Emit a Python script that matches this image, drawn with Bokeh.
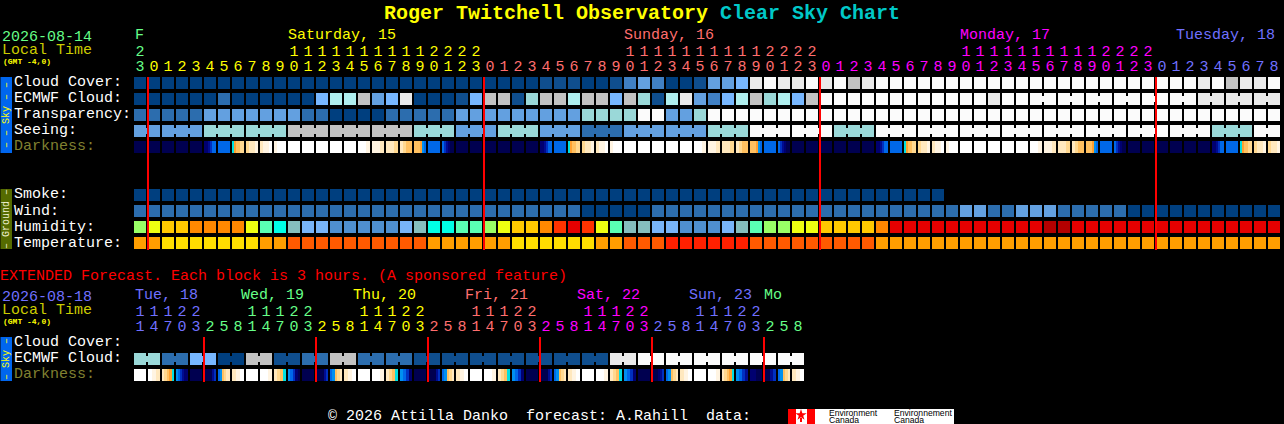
from bokeh.plotting import figure
from bokeh.models import ColumnDataSource, Range1d
from bokeh.core.properties import value
from bokeh.embed import file_html
from bokeh.resources import INLINE
import math

# ---------- data ----------
hours = [23, 0,1,2,3,4,5,6,7,8,9,10,11,12,13,14,15,16,17,18,19,20,21,22,23,
         0,1,2,3,4,5,6,7,8,9,10,11,12,13,14,15,16,17,18,19,20,21,22,23,
         0,1,2,3,4,5,6,7,8,9,10,11,12,13,14,15,16,17,18,19,20,21,22,23,
         0,1,2,3,4,5,6,7,8]
ext_hours = [11,14,17,20,23, 2,5,8,11,14,17,20,23, 2,5,8,11,14,17,20,23, 2,5,8,11,14,17,20,23,
             2,5,8,11,14,17,20,23, 2,5,8,11,14,17,20,23, 2,5,8]

cloud = [0,0,0,0,0,0,0,0,0,0,0,0,0,0,0,0,0,0,0,0,0,0,0,0,0,0,0,0,0,1,1,1,0,0,1,3,4,3,0,0,1,4,4,5,9,10,9,9,10,9,10,8,9,
         10,10,10,10,10,10,10,10,10,10,10,10,10,10,10,10,10,10,10,10,10,10,10,9,10,8,9,9,10]
ecmwf = [0,0,0,0,0,0,2,0,0,0,0,0,0,5,7,7,8,4,5,9,0,0,0,1,5,8,8,1,6,8,8,7,8,8,5,8,6,1,7,9,4,3,5,7,8,6,7,5,8,10,10,10,
         10,10,10,10,10,10,10,10,10,9,10,10,10,10,10,10,10,10,9,9,9,9,9,9,5,5,5,5,5,5]
ecmwf_spans = [1,1,1,1,1,1,1,1,1,1,1,1,1,1,1,1,1,1,1,1,1,1,1,1,1,1,1,1,1,1,1,1,1,1,1,1,1,1,1,1,1,1,1,1,1,1,1,1,1,1,1,1,1,1,1,1,1,1,1,1,1,1,1,1,
               2,2,2,2,2,2,2,2,2]
transparency = [2,2,2,2,2,4,4,4,4,4,4,4,2,2,0,0,0,0,2,2,2,2,2,4,4,4,4,4,4,4,4,4,6,6,6,6,10,10,4,4,6,
                10,10,10,10,10,10,10,10,10,10,10,10,10,10,10,10,10,10,10,10,10,10,10,10,10,10,10,10,10,10,10,10,10,10,10,10,10,10,10,10,10]
seeing_spans = [2,3,3,3,3,3,3,3,3,3,3,3,3,3,3,3,3,3,3,3,3,3,3,3,3,3,3,2]
seeing_blocks = [4,4,6,6,8,8,8,6,4,6,4,2,4,4,6,10,10,6,10,10,10,10,10,10,10,10,6,10]
darkness = [(0,),(0,),(0,),(0,),(0,),(1,1,2,3,4,4),(4,),(6,7,8,8,9,9),(9,10,10,11),(10,11,11,12),(11,12,12,12),
            (12,),(12,),(12,),(12,),(12,),(12,12,11),(11,11,10),(10,10,9),(10,9,8,8),(8,8,8,7,5,4),(4,),(4,3,2,1,0,0),
            (0,),(0,),(0,),(0,),(0,),(0,),(1,1,2,3,4,4),(4,),(6,7,8,8,9,9),(9,10,10,11),(10,11,11,12),(11,12,12,12),
            (12,),(12,),(12,),(12,),(12,),(12,12,11),(11,11,10),(10,10,9),(10,9,8,8),(8,8,8,7,5,4),(4,),(4,3,2,1,0,0),
            (0,),(0,),(0,),(0,),(0,),(0,),(1,1,2,3,4,4),(4,),(6,7,8,8,9,9),(9,10,10,11),(10,11,11,12),(11,12,12,12),
            (12,),(12,),(12,),(12,),(12,),(12,12,11),(11,11,10),(10,10,9),(10,9,8,8),(8,8,8,7,5,4),(4,),(4,3,2,1,0,0),
            (0,),(0,),(0,),(0,),(0,),(0,),(1,1,2,3,4,4),(4,),(6,7,8,8,9,9),(9,10,10,11),(9,10,10,11)]
smoke = [0,0,0,0,0,0,0,0,0,0,0,0,0,0,0,0,0,0,0,0,0,0,0,0,0,0,0,0,0,0,0,0,0,0,0,0,0,0,0,0,0,0,0,0,0,0,0,0,0,0,0,0,0,0,0,0,0,0]
wind = [2,2,2,2,2,2,2,2,2,2,2,2,2,2,2,2,2,2,2,2,2,2,2,2,2,2,2,2,2,2,2,2,0,0,0,0,0,2,2,2,2,2,2,2,2,2,2,2,2,2,2,2,2,2,2,2,2,2,2,
        4,4,2,2,4,4,4,2,2,2,2,2,0,0,0,0,0,0,0,0,0,0,0]
humidity = [5,6,7,7,8,8,8,8,6,4,3,2,1,1,0,0,0,0,0,1,2,3,3,4,4,5,6,7,7,8,9,10,9,6,4,2,2,1,1,0,0,0,1,2,4,5,5,6,6,7,7,7,7,8,
            10,10,10,10,10,10,10,10,10,10,10,11,11,10,10,10,10,10,10,10,10,10,10,10,10,10,10,10]
temperature = [1,1,0,0,0,0,0,0,0,1,1,2,2,2,2,2,2,2,2,2,2,1,1,1,1,1,1,0,0,0,0,0,0,1,1,2,2,2,3,3,3,3,3,3,2,2,2,2,2,2,2,2,2,
               1,1,1,1,1,1,1,1,1,1,1,1,1,1,1,1,1,1,1,1,1,1,1,1,1,1,1,1,1]

ext_ecmwf_blocks = [6,2,5,0,8,1,2,8,2,2,1,1,1,1,1,1,1,9,10,10,10,10,10,10]
ext_ecmwf_spans = [2,2,2,2,2,2,2,2,2,2,2,2,2,2,2,2,2,2,2,2,2,2,2,2]
ext_darkness = [(12,),(12,11,10),(10,9,8,7,6),(5,4,3,2,1,1),(0,),(0,0,0,0,2,3),(4,5,8,9,10,10),(10,11,12),
                (12,),(12,12,11),(10,9,8,6),(5,4,3,1,0),(0,),(0,0,0,0,2,3),(4,5,8,9,10),(10,11,12),
                (12,),(12,12,11),(10,9,8,6),(5,4,3,1),(0,),(0,0,0,0,2,3),(4,5,8,9,10),(10,11,12),
                (12,),(12,12,11),(10,9,8,6),(5,4,3,1),(0,),(0,0,0,0,2,3),(4,5,8,9,10),(10,11,12),
                (12,),(12,12,11),(10,9,8,6),(5,4,3,1),(0,),(0,0,0,1,2,3),(4,5,8,9,10),(10,11,12),
                (12,),(12,12,11),(10,9,8,7,6),(5,4,3,2),(1,0),(0,0,2,3),(4,5,8,9,10),(10,11,12)]

day_names = ["Saturday, 15", "Sunday, 16", "Monday, 17", "Tuesday, 18"]
ext_day_names = ["Tue, 18", "Wed, 19", "Thu, 20", "Fri, 21", "Sat, 22", "Sun, 23", "Mo"]
sky_rows = ["Cloud Cover:", "ECMWF Cloud:", "Transparency:", "Seeing:"]
ground_rows = ["Smoke:", "Wind:", "Humidity:", "Temperature:"]

# ---------- styles & layout ----------
CLOUD = ["#003F7F", "#0F4E8E", "#2C6DAE", "#4080C4", "#63A0E0", "#77B7FF", "#9AD8D8", "#AFEEEE", "#C2C2C2", "#EAEAEA", "#FBFBFB"]
DARK = ["#000050", "#000070", "#000C90", "#0030C0", "#0068E8", "#0090F0", "#00E0E0", "#FFA030", "#FFC060", "#FFD890", "#FFE8BE", "#FFF4E2", "#FFFFFF"]
HUM = ["#4F8FD0", "#78B4F8", "#85BEBE", "#00FFE6", "#5AFFB4", "#99FF66", "#EEFF11", "#FFC800", "#FF8800", "#FF3300", "#E60000", "#B40000"]
TEMP = ["#FFDD00", "#FF9E00", "#FF5A00", "#FF2000"]
GREEN, YEL, SALMON, MAG, BLUE = "#66FF88", "#FFFF00", "#FF6E6E", "#FF00FF", "#7070FF"
LT, OLIVE = "#CCCC00", "#808030"
MONO = value("Liberation Mono")
X0, PITCH, CELL, BAR = 134, 14, 12, 6
W, H = 1284, 424
BASE_SHIFT = 0.30  # alphabetic text sits this many em below the anchor

# half-pixel range offset cancels the half-pixel translation of the SVG layer, keeping cell edges crisp
p = figure(width=W, height=H, x_range=Range1d(0.5, W + 0.5), y_range=Range1d(H + 0.5, 0.5), output_backend="svg",
           toolbar_location=None, background_fill_color="black", border_fill_color="black",
           min_border=0, styles={"background-color": "black"})
p.axis.visible = False
p.grid.visible = False
p.outline_line_color = None


def boxes(l, r, t, b, c):
    p.quad(left=l, right=r, top=t, bottom=b, fill_color=c, line_color=None)


def row(top, vals, pal):
    xs = [X0 + PITCH * i for i in range(len(vals))]
    boxes(xs, [x + CELL for x in xs], [top] * len(vals), [top + CELL] * len(vals), [pal[v] for v in vals])


def span_row(top, vals, spans, pal):
    i = 0
    L, R, T, B, C = [], [], [], [], []
    for v, n in zip(vals, spans):
        for k in range(n):
            x = X0 + PITCH * (i + k)
            L.append(x); R.append(x + CELL); T.append(top); B.append(top + CELL); C.append(pal[v])
            if k < n - 1:
                L.append(x + CELL); R.append(x + PITCH); T.append(top + (CELL - BAR) // 2)
                B.append(top + (CELL + BAR) // 2); C.append(pal[v])
        i += n
    boxes(L, R, T, B, C)


def grad_row(top, cells):
    # each slice runs to the cell's right edge and the next slice paints over it, so no seams appear
    L, R, C = [], [], []
    for i, seq in enumerate(cells):
        x = X0 + PITCH * i
        for k, v in enumerate(seq):
            L.append(x + round(CELL * k / len(seq)))
            R.append(x + CELL)
            C.append(DARK[v])
    boxes(L, R, [top] * len(L), [top + CELL] * len(L), C)


def label(x, y, texts, colors, size=15, bold=False, align="left", angle=0, font=MONO, baseline="alphabetic"):
    if isinstance(texts, str):
        texts, x, y = [texts], [x], [y]
    if isinstance(colors, str):
        colors = [colors] * len(texts)
    if baseline == "alphabetic":
        y = [v - BASE_SHIFT * size for v in y]
    src = ColumnDataSource(dict(x=x, y=y, text=texts, color=colors))
    p.text("x", "y", "text", source=src, text_color="color", text_font=font,
           text_font_size=f"{size}px", text_font_style="bold" if bold else "normal",
           text_align=align, text_baseline=baseline, angle=angle)


# side bars
boxes([0, 0, 0], [12, 12, 12], [77, 189, 337], [153, 249, 381], ["#0066EE", "#556B00", "#0066EE"])
label([6], [115], ["– – Sky – –"], YEL, size=10, align="center", angle=math.pi / 2, baseline="middle")
label([6], [219], ["– Ground –"], "#F0F0D0", size=10, align="center", angle=math.pi / 2, baseline="middle")
label([6], [359], ["– Sky –"], YEL, size=10, align="center", angle=math.pi / 2, baseline="middle")

# main rows
row(77, cloud, CLOUD)
span_row(93, ecmwf, ecmwf_spans, CLOUD)
row(109, transparency, CLOUD)
span_row(125, seeing_blocks, seeing_spans, CLOUD)
grad_row(141, darkness)
row(189, smoke, CLOUD)
row(205, wind, CLOUD)
row(221, humidity, HUM)
row(237, temperature, TEMP)

# extended rows
span_row(353, ext_ecmwf_blocks, ext_ecmwf_spans, CLOUD)
grad_row(369, ext_darkness)

# midnight markers
main_mid = [X0 + PITCH * i for i, h in enumerate(hours) if h == 0]
ext_mid = [X0 + PITCH * i for i in range(1, len(ext_hours)) if ext_hours[i] < ext_hours[i - 1]]
p.segment(main_mid, [77] * len(main_mid), main_mid, [250] * len(main_mid), line_color="#FF0000", line_width=2)
p.segment(ext_mid, [337] * len(ext_mid), ext_mid, [382] * len(ext_mid), line_color="#FF0000", line_width=2)

# title
label(384, 19, "Roger Twitchell Observatory", YEL, size=20, bold=True)
label(720, 19, "Clear Sky Chart", "#00C8C8", size=20, bold=True)

# main header
label(2, 40, "2026-08-14", GREEN)
label(2, 55, "Local Time", LT)
label(3, 64, "(GMT -4,0)", YEL, size=8, bold=True)
label(135, 40, "F", GREEN)
label([288, 624, 960, 1176], [40, 40, 40, 40], day_names, [YEL, SALMON, MAG, BLUE])

main_colors = []
day = 0
for i, h in enumerate(hours):
    if h == 0:
        day += 1
    main_colors.append([GREEN, YEL, SALMON, MAG, BLUE][day])
cx = [X0 + PITCH * i + CELL / 2 for i in range(len(hours))]
label(cx, [70] * len(hours), [str(h % 10) for h in hours], main_colors, align="center")
tens = [i for i, h in enumerate(hours) if h >= 10]
label([cx[i] for i in tens], [55] * len(tens), [str(hours[i] // 10) for i in tens], [main_colors[i] for i in tens], align="center")

for k, t in enumerate(sky_rows):
    label(14, 87 + 16 * k, t, "#FFFFFF")
label(14, 151, "Darkness:", OLIVE)
for k, t in enumerate(ground_rows):
    label(14, 199 + 16 * k + (1 if k else 0), t, "#FFFFFF")

# extended header
label(0, 281, "EXTENDED Forecast. Each block is 3 hours. (A sponsored feature)", "#FF0000")
label(2, 300, "2026-08-18", BLUE)
label(2, 315, "Local Time", LT)
label(3, 324, "(GMT -4,0)", YEL, size=8, bold=True)
ext_day_colors = [BLUE, GREEN, YEL, SALMON, MAG, BLUE, GREEN]
label([135, 241, 353, 465, 577, 689, 764], [300] * 7, ext_day_names, ext_day_colors)

ext_colors = []
day = 0
for i, h in enumerate(ext_hours):
    if i and h < ext_hours[i - 1]:
        day += 1
    ext_colors.append(ext_day_colors[day])
ecx = [X0 + PITCH * i + CELL / 2 for i in range(len(ext_hours))]
label(ecx, [330] * len(ext_hours), [str(h % 10) for h in ext_hours], ext_colors, align="center")
etens = [i for i, h in enumerate(ext_hours) if h >= 10]
label([ecx[i] for i in etens], [315] * len(etens), [str(ext_hours[i] // 10) for i in etens], [ext_colors[i] for i in etens], align="center")

label(14, 347, "Cloud Cover:", "#FFFFFF")
label(14, 363, "ECMWF Cloud:", "#FFFFFF")
label(14, 379, "Darkness:", OLIVE)

# footer
label(328, 421, "© 2026 Attilla Danko", "#FFFFFF")
label(526, 421, "forecast: A.Rahill", "#FFFFFF")
label(706, 421, "data:", "#FFFFFF")
boxes([788], [954], [409], [424], ["#FFFFFF"])
boxes([788, 807], [796, 815], [409, 409], [424, 424], ["#FF0000", "#FF0000"])
boxes([800], [802], [418], [422], ["#FF0000"])
p.scatter([801], [415], marker="star", size=12, fill_color="#FF0000", line_color=None)
SANS = value("Liberation Sans")
label([829, 894], [416, 416], ["Environment", "Environnement"], "#000000", size=8.6, font=SANS)
label([829, 894], [423, 423], ["Canada", "Canada"], "#000000", size=8.6, font=SANS)

open("out.html", "w").write(file_html(p, INLINE))
